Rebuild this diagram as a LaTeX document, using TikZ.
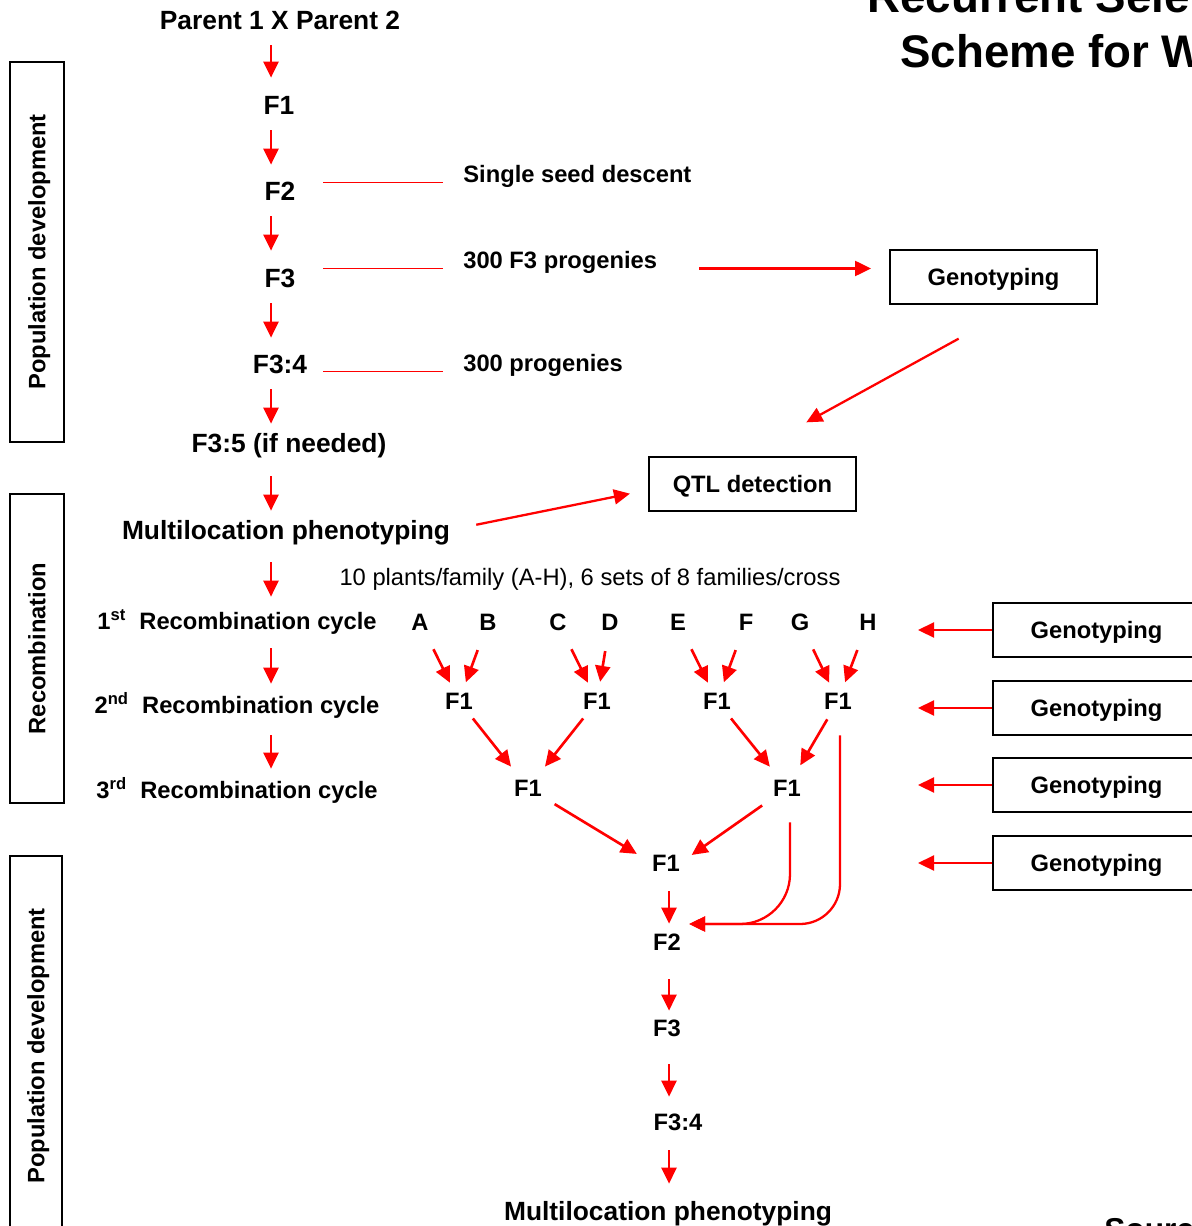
\documentclass[tikz,border=0pt]{standalone}
\usepackage{fontspec}
\setmainfont{Liberation Sans}
\definecolor{mRed}{HTML}{FF0000}
\definecolor{mInk}{HTML}{000000}
\usetikzlibrary{positioning,arrows.meta,calc}

\begin{document}
\begin{tikzpicture}[x=0.02cm, y=-0.02cm,
  big/.style={font=\fontsize{15}{18}\selectfont\bfseries, inner sep=0pt, text height=0.38cm, text depth=0pt},
  lbl/.style={font=\fontsize{13.5}{16}\selectfont\bfseries, inner sep=0pt, text height=0.34cm, text depth=0pt},
  note/.style={font=\fontsize{13.5}{16}\selectfont, inner sep=0pt, text height=0.34cm, text depth=0pt},
  ttl/.style={font=\fontsize{26}{31}\selectfont\bfseries, inner sep=0pt, anchor=base west},
  src/.style={font=\fontsize{18}{22}\selectfont\bfseries, inner sep=0pt, anchor=base west},
  box/.style={lbl, draw=mInk, line width=1.1pt, minimum width=4.14cm, minimum height=1.08cm},
  side/.style={lbl, draw=mInk, line width=1.1pt, rotate=90, minimum height=1.08cm},
  arr/.style={-{Triangle[length=0.32cm, width=0.3cm]}, mRed, line width=1.5pt},
  famarr/.style={arr, shorten <=0.41cm, shorten >=0.21cm},
  link/.style={mRed, line width=0.8pt},
  loopback/.style={arr, line width=1.3pt, shorten <=0.51cm, shorten >=0.16cm},
]
\useasboundingbox (0,0) rectangle (1191,1226);
% title and source, cut by the page edge
\node[ttl] (ttlA) at (867,13) {Recurrent Sele};
\node[ttl] (ttlB) at (900,68) {Scheme for W};
\node[src] (srcA) at (1104,1240) {Sourc};

% stage boxes on the left
\node[side, minimum width=7.6cm] (popA) at (37,252) {Population development};
\node[side, minimum width=6.18cm] (recA) at (37,648.5) {Recombination};
\node[side, minimum width=7.6cm, minimum height=1.04cm] (popB) at (36,1046) {Population development};

% population development
\coordinate (ax) at (271,0);
\node[big] (par) at (280,20) {Parent 1 X Parent 2};
\node[big] (f1) at (279,105) {F1};
\node[big] (f2) at (280,191) {F2};
\node[big] (f3) at (280,278) {F3};
\node[big] (f34) at (280,364) {F3:4};
\node[big] (f35) at (289,443) {F3:5 (if needed)};
\node[big] (mul) at (286,530) {Multilocation phenotyping};
\node[lbl] (rc1) at (237,621) {1\textsuperscript{st}~~Recombination cycle};
\node[lbl] (rc2) at (237,705) {2\textsuperscript{nd}~~Recombination cycle};
\node[lbl] (rc3) at (237,790) {3\textsuperscript{rd}~~Recombination cycle};
\draw[arr, shorten <=0.31cm, shorten >=0.35cm] (par.south -| ax) -- (f1.north -| ax);
\draw[arr, shorten <=0.31cm, shorten >=0.33cm] (f1.south -| ax) -- (f2.north -| ax);
\draw[arr, shorten <=0.31cm, shorten >=0.35cm] (f2.south -| ax) -- (f3.north -| ax);
\draw[arr, shorten <=0.31cm, shorten >=0.33cm] (f3.south -| ax) -- (f34.north -| ax);
\draw[arr, shorten <=0.31cm, shorten >=0.19cm] (f34.south -| ax) -- (f35.north -| ax);
\draw[arr, shorten <=0.47cm, shorten >=0.19cm] (f35.south -| ax) -- (mul.north -| ax);
\draw[arr, shorten <=0.45cm, shorten >=0.31cm] (mul.south -| ax) -- (rc1.north -| ax);
\draw[arr, shorten <=0.37cm, shorten >=0.25cm] (rc1.south -| ax) -- (rc2.north -| ax);
\draw[arr, shorten <=0.43cm, shorten >=0.25cm] (rc2.south -| ax) -- (rc3.north -| ax);

% notes beside the generations
\coordinate (lx) at (323,0);
\node[lbl, anchor=west] (ssd) at (463,174) {Single seed descent};
\node[lbl, anchor=west] (pf3) at (463,260) {300 F3 progenies};
\node[lbl, anchor=west] (prg) at (463,363) {300 progenies};
\draw[link, shorten >=0.4cm] (lx |- ssd.base west) -- (ssd.base west);
\draw[link, shorten >=0.4cm] (lx |- pf3.base west) -- (pf3.base west);
\draw[link, shorten >=0.4cm] (lx |- prg.base west) -- (prg.base west);

% genotyping and QTL detection
\node[box] (gen0) at (993.5,277) {Genotyping};
\node[box] (qtl) at (752.5,484) {QTL detection};
\draw[arr, line width=1.3pt, shorten <=0.84cm, shorten >=0.36cm] (pf3.base east) -- (gen0.west |- pf3.base east);
\draw[arr, line width=1.3pt, shorten <=1.4cm, shorten >=1.4cm] ([xshift=0.53cm]gen0.south) -- ([xshift=-0.15cm]qtl.north);
\draw[arr, line width=1.3pt, shorten <=0.53cm, shorten >=0.37cm] (mul.east) -- ([yshift=-0.12cm]qtl.west);

% recombination tree
\node[note] (info) at (590,577) {10 plants/family (A-H), 6 sets of 8 families/cross};
\node[lbl] (famA) at (420,622) {A};
\node[lbl] (famB) at (488,622) {B};
\node[lbl] (famC) at (558,622) {C};
\node[lbl] (famD) at (610,622) {D};
\node[lbl] (famE) at (678,622) {E};
\node[lbl] (famF) at (746,622) {F};
\node[lbl] (famG) at (800,622) {G};
\node[lbl] (famH) at (868,622) {H};
\node[lbl] (xAB) at (459,701) {F1};
\node[lbl] (xCD) at (597,701) {F1};
\node[lbl] (xEF) at (717,701) {F1};
\node[lbl] (xGH) at (838,701) {F1};
\node[lbl] (xAD) at (528,788) {F1};
\node[lbl] (xEH) at (787,788) {F1};
\node[lbl] (xAll) at (666,863) {F1};
\draw[famarr] (famA) -- (xAB);
\draw[famarr] (famB) -- (xAB);
\draw[famarr] (famC) -- (xCD);
\draw[famarr] (famD) -- (xCD);
\draw[famarr] (famE) -- (xEF);
\draw[famarr] (famF) -- (xEF);
\draw[famarr] (famG) -- (xGH);
\draw[famarr] (famH) -- (xGH);
\draw[arr, shorten <=0.22cm, shorten >=0.32cm] (xAB) -- (xAD);
\draw[arr, shorten <=0.22cm, shorten >=0.32cm] (xCD) -- (xAD);
\draw[arr, shorten <=0.22cm, shorten >=0.32cm] (xEF) -- (xEH);
\draw[arr, shorten <=0.22cm, shorten >=0.32cm] (xGH) -- (xEH);
\draw[arr, shorten <=0.29cm, shorten >=0.35cm] (xAD) -- (xAll.west);
\draw[arr, shorten <=0.3cm, shorten >=0.28cm] (xEH) -- (xAll.east);

% second population
\coordinate (bx) at (669,0);
\node[lbl] (bF2) at (667,942) {F2};
\node[lbl] (bF3) at (667,1028) {F3};
\node[lbl] (bF34) at (678,1122) {F3:4};
\node[big] (bMul) at (668,1211) {Multilocation phenotyping};
\draw[arr, shorten <=0.39cm, shorten >=0.19cm] (xAll.south -| bx) -- (bF2.north -| bx);
\draw[arr, shorten <=0.57cm, shorten >=0.17cm] (bF2.south -| bx) -- (bF3.north -| bx);
\draw[arr, shorten <=0.55cm, shorten >=0.33cm] (bF3.south -| bx) -- (bF34.north -| bx);
\draw[arr, shorten <=0.39cm, shorten >=0.35cm] (bF34.south -| bx) -- (bMul.north -| bx);
\draw[loopback, rounded corners=1cm] ([xshift=0.06cm]xEH.south) |- ([yshift=0.36cm]bF2.east);
\draw[loopback, rounded corners=0.8cm] ([xshift=0.04cm]xGH.south) |- ([yshift=0.36cm]bF2.east);

% genotyping of each cycle
\coordinate (gx) at (918,0);
\node[box] (gen1) at (1096.5,630) {Genotyping};
\node[box] (gen2) at (1096.5,708) {Genotyping};
\node[box] (gen3) at (1096.5,785) {Genotyping};
\node[box] (gen4) at (1096.5,863) {Genotyping};
\draw[arr, line width=1.3pt] (gen1.west) -- (gen1.west -| gx);
\draw[arr, line width=1.3pt] (gen2.west) -- (gen2.west -| gx);
\draw[arr, line width=1.3pt] (gen3.west) -- (gen3.west -| gx);
\draw[arr, line width=1.3pt] (gen4.west) -- (gen4.west -| gx);
\end{tikzpicture}
\end{document}
